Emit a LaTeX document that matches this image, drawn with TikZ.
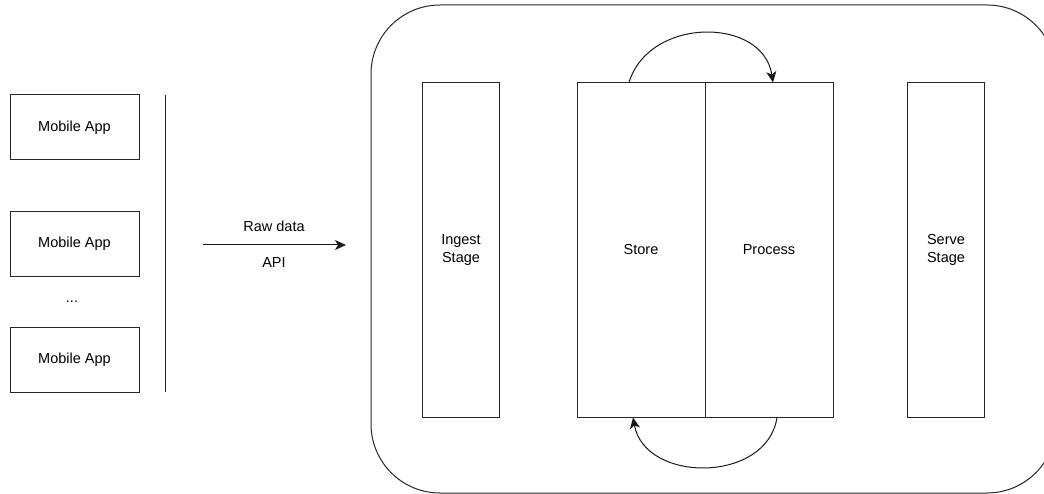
\documentclass[tikz,border=0pt]{standalone}
\usepackage{fontspec}
\setmainfont{Liberation Sans}
\usetikzlibrary{arrows.meta}
\begin{document}
\begin{tikzpicture}[x=1pt,y=-1pt,
  box/.style={draw=black!85,line width=1pt,minimum width=129pt,minimum height=65pt,inner sep=0pt,font=\fontsize{14.5}{17}\selectfont},
  stage/.style={draw=black!85,line width=1pt,minimum width=77pt,minimum height=334pt,inner sep=0pt,align=center,font=\fontsize{14.5}{17}\selectfont},
  wide/.style={draw=black!85,line width=1pt,minimum width=128pt,minimum height=334pt,inner sep=0pt,font=\fontsize{14.5}{17}\selectfont},
  lbl/.style={inner sep=0pt,font=\fontsize{14.5}{17}\selectfont},
  conn/.style={draw=black!90,line width=1pt,-{Stealth[length=11pt,width=10pt,inset=3pt]}},
  ]
\useasboundingbox (0,0) rectangle (1044,494);
% big rounded container
\draw[black!85,line width=1pt,rounded corners=69pt] (371,5) rectangle (1056,493);
% mobile apps
\node[box] (m1) at (74.5,127.5) {Mobile App};
\node[box] (m2) at (74.5,244) {Mobile App};
\node[box] (m3) at (74.5,359.5) {Mobile App};
\node[lbl] (dots) at (72,302) {...};
% vertical separator
\coordinate (vt) at (165,95);
\coordinate (vb) at (165,392);
\draw[black!85,line width=1pt] (vt) -- (vb);
% API arrow
\coordinate (as) at (203,245);
\coordinate (ae) at (346,245);
\draw[conn] (as) -- (ae);
\node[lbl] (raw) at (274,226) {Raw data};
\node[lbl] (api) at (274,263) {API};
% stages
\node[stage] (ingest) at (461,250) {Ingest\\[1pt]Stage};
\node[wide] (store) at (641,250) {Store};
\node[wide] (process) at (769,250) {Process};
\node[stage] (serve) at (946,250) {Serve\\[1pt]Stage};
% loop arrows
\draw[conn] ([xshift=-12pt]store.north) .. controls +(20,-66) and +(-10,-66) .. ([xshift=4pt]process.north);
\draw[conn] ([xshift=8pt]process.south) .. controls +(-10,66) and +(12,66) .. ([xshift=-8pt]store.south);
\end{tikzpicture}
\end{document}
